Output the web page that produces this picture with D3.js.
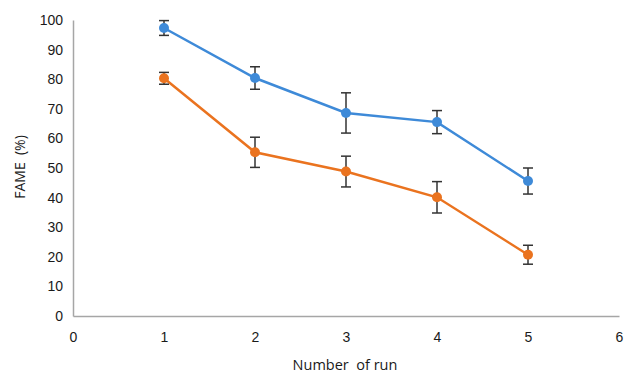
<!DOCTYPE html>
<html>
<head>
<meta charset="utf-8">
<script src="https://cdn.jsdelivr.net/npm/d3@7"></script>
<style>
  html, body { margin: 0; padding: 0; background: #fff; }
  svg { display: block; font-family: "Open Sans", "Liberation Sans", sans-serif; }
</style>
</head>
<body>
<svg id="chart" width="624" height="374"></svg>
<script>
// Run numbers and FAME yields (%) with their error margins
const runs = [1, 2, 3, 4, 5];
const blueValues = [97.3, 80.4, 68.6, 65.5, 45.6];
const blueErrors = [2.5, 3.8, 6.8, 3.9, 4.4];
const orangeValues = [80.3, 55.3, 48.8, 40.1, 20.7];
const orangeErrors = [2.0, 5.1, 5.2, 5.3, 3.2];
const xTicks = [0, 1, 2, 3, 4, 5, 6];
const yTicks = [0, 10, 20, 30, 40, 50, 60, 70, 80, 90, 100];

const series = [
  { values: blueValues, errors: blueErrors, color: "#3e8ad8" },
  { values: orangeValues, errors: orangeErrors, color: "#ea731f" }
];

const svg = d3.select("#chart");
const margin = { left: 73, right: 5, top: 20, bottom: 58 };
const width = 624, height = 374;

const x = d3.scaleLinear().domain([0, 6]).range([margin.left, width - margin.right]);
const y = d3.scaleLinear().domain([0, 100]).range([height - margin.bottom, margin.top]);

// Axes: thin grey lines, no tick marks
const xAxis = svg.append("g")
  .attr("transform", `translate(0,${y(0)})`)
  .call(d3.axisBottom(x).tickValues(xTicks).tickSize(0).tickPadding(16).tickFormat(d3.format("d")));
const yAxis = svg.append("g")
  .attr("transform", `translate(${x(0)},0)`)
  .call(d3.axisLeft(y).tickValues(yTicks).tickSize(0).tickPadding(10).tickFormat(d3.format("d")));

[xAxis, yAxis].forEach(g => {
  g.select(".domain").attr("stroke", "#a6a6a6").attr("stroke-width", 1.5);
  g.selectAll("text").attr("font-size", 14).attr("fill", "#1a1a1a");
});

// Axis titles
svg.append("text")
  .attr("x", 345).attr("y", 370)
  .attr("text-anchor", "middle")
  .attr("font-size", 14.5).attr("fill", "#1a1a1a")
  .attr("xml:space", "preserve")
  .text("Number  of run");

svg.append("text")
  .attr("transform", "translate(25,167) rotate(-90)")
  .attr("text-anchor", "middle")
  .attr("font-size", 14).attr("fill", "#1a1a1a")
  .attr("xml:space", "preserve")
  .text("FAME  (%)");

const line = d3.line().x((d, i) => x(runs[i])).y(d => y(d));

series.forEach(s => {
  const g = svg.append("g");
  g.append("path")
    .datum(s.values)
    .attr("d", line)
    .attr("fill", "none")
    .attr("stroke", s.color)
    .attr("stroke-width", 2.5);

  // Error bars with caps
  const bars = g.selectAll(".err").data(s.values).enter().append("g");
  bars.append("line")
    .attr("x1", (d, i) => x(runs[i])).attr("x2", (d, i) => x(runs[i]))
    .attr("y1", (d, i) => y(d + s.errors[i])).attr("y2", (d, i) => y(d - s.errors[i]))
    .attr("stroke", "#333").attr("stroke-width", 1.5);
  [1, -1].forEach(sign => {
    bars.append("line")
      .attr("x1", (d, i) => x(runs[i]) - 5).attr("x2", (d, i) => x(runs[i]) + 5)
      .attr("y1", (d, i) => y(d + sign * s.errors[i])).attr("y2", (d, i) => y(d + sign * s.errors[i]))
      .attr("stroke", "#333").attr("stroke-width", 1.5);
  });

  g.selectAll("circle").data(s.values).enter().append("circle")
    .attr("cx", (d, i) => x(runs[i]))
    .attr("cy", d => y(d))
    .attr("r", 5)
    .attr("fill", s.color);
});
</script>
</body>
</html>
